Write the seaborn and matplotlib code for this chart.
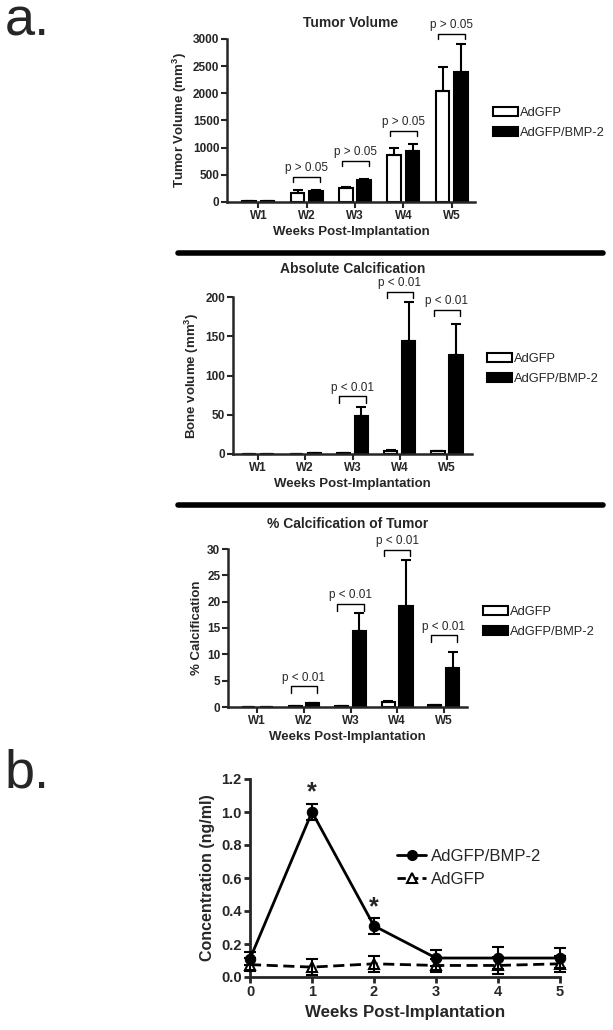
import numpy as np
import pandas as pd
import matplotlib
matplotlib.use("Agg")
import matplotlib.pyplot as plt
from matplotlib.lines import Line2D
from matplotlib.patches import Patch
import seaborn as sns

sns.set_style("ticks")
plt.rcParams["font.family"] = ["Liberation Sans", "DejaVu Sans"]
plt.rcParams["mathtext.default"] = "regular"

# ---- data ----
weeks = ["W1", "W2", "W3", "W4", "W5"]
groups = ["AdGFP", "AdGFP/BMP-2"]

# tumor volume (mm3)
vol_gfp = [15, 172, 265, 862, 2039]
vol_gfp_err = [5, 40, 10, 125, 437]
vol_bmp = [15, 197, 400, 942, 2384]
vol_bmp_err = [5, 18, 20, 118, 530]
vol_p = ["", "p > 0.05", "p > 0.05", "p > 0.05", "p > 0.05"]
vol_bracket = [None, 462, 751, 1312, 3098]

# absolute calcification (bone volume mm3)
bone_gfp = [0.3, 0.3, 1.2, 4.2, 3.4]
bone_gfp_err = [0.1, 0.1, 0.3, 1.0, 0.6]
bone_bmp = [0.3, 1.0, 48, 144, 126]
bone_bmp_err = [0.1, 0.3, 12.5, 50, 39]
bone_p = ["", "", "p < 0.01", "p < 0.01", "p < 0.01"]
bone_bracket = [None, None, 73.5, 207, 184]

# % calcification of tumor
pct_gfp = [0.0, 0.15, 0.1, 0.9, 0.3]
pct_gfp_err = [0.0, 0.05, 0.05, 0.2, 0.1]
pct_bmp = [0.0, 0.7, 14.4, 19.2, 7.4]
pct_bmp_err = [0.0, 0.1, 3.4, 8.8, 3.1]
pct_p = ["", "p < 0.01", "p < 0.01", "p < 0.01", "p < 0.01"]
pct_bracket = [None, 3.9, 19.6, 29.9, 13.6]

# panel b: serum BMP-2 concentration
conc_weeks = [0, 1, 2, 3, 4, 5]
conc_bmp = [0.11, 1.0, 0.31, 0.115, 0.115, 0.115]
conc_bmp_err = [0.04, 0.05, 0.05, 0.05, 0.065, 0.06]
conc_gfp = [0.075, 0.06, 0.08, 0.07, 0.07, 0.08]
conc_gfp_err = [0.04, 0.05, 0.05, 0.04, 0.05, 0.05]
star_weeks = [1, 2]
star_y = [1.12, 0.42]

W, H = 613, 1030
fig = plt.figure(figsize=(W / 100, H / 100), dpi=100)


def px_axes(left, right, top, bottom):
    return fig.add_axes([left / W, 1 - bottom / H, (right - left) / W, (bottom - top) / H])


def style_axes(ax, fs=8.5):
    sns.despine(ax=ax)
    for s in ["left", "bottom"]:
        ax.spines[s].set_linewidth(1.8)
    ax.tick_params(width=1.5, length=4, labelsize=fs, pad=1.5)
    for lab in ax.get_xticklabels() + ax.get_yticklabels():
        lab.set_fontweight("bold")


def bar_panel(ax, gfp, gfp_err, bmp, bmp_err, pvals, brackets, ymax, ystep,
              ylabel, title, title_y, xlim, tick_d, legend_xy):
    df = pd.DataFrame({
        "week": weeks * 2,
        "value": gfp + bmp,
        "group": [groups[0]] * 5 + [groups[1]] * 5,
    })
    sns.barplot(data=df, x="week", y="value", hue="group", ax=ax,
                palette={groups[0]: "white", groups[1]: "black"},
                edgecolor="black", linewidth=1.5, width=0.76, gap=0.26,
                errorbar=None, legend=False)
    for cont, err in zip(ax.containers, [gfp_err, bmp_err]):
        xs = [p.get_x() + p.get_width() / 2 for p in cont]
        ys = [p.get_height() for p in cont]
        ax.errorbar(xs, ys, yerr=[np.zeros(len(err)), err], fmt="none",
                    ecolor="black", elinewidth=1.5, capsize=3.5, capthick=1.5,
                    clip_on=False, zorder=1)
    for i, (txt, yb) in enumerate(zip(pvals, brackets)):
        if yb is None:
            continue
        x1, x2 = i - 0.28, i + 0.28
        ax.plot([x1, x1, x2, x2], [yb - tick_d, yb, yb, yb - tick_d],
                color="black", lw=1, clip_on=False)
        ax.annotate(txt, (i, yb), xytext=(0, 2), textcoords="offset points",
                    ha="center", va="bottom", fontsize=8.5, annotation_clip=False)
    ax.set_xlim(*xlim)
    ax.set_ylim(0, ymax)
    ax.set_yticks(np.arange(0, ymax + 1e-9, ystep))
    ax.set_xlabel("Weeks Post-Implantation", fontsize=9.5, fontweight="bold", labelpad=3)
    ax.set_ylabel(ylabel, fontsize=9.5, fontweight="bold", labelpad=3)
    bb = ax.get_position()
    fig.text(bb.x0 + bb.width / 2, 1 - title_y / H, title, fontsize=10,
             fontweight="bold", ha="center", va="center")
    style_axes(ax)
    handles = [Patch(facecolor="white", edgecolor="black", linewidth=1.5, label=groups[0]),
               Patch(facecolor="black", edgecolor="black", linewidth=1.5, label=groups[1])]
    fig.legend(handles=handles, loc="center left",
               bbox_to_anchor=(legend_xy[0] / W, 1 - legend_xy[1] / H),
               frameon=False, fontsize=9.3, borderpad=0, borderaxespad=0,
               handlelength=1.9, handleheight=0.65, handletextpad=0.15, labelspacing=0.6)


ax1 = px_axes(227, 475, 39, 202)
bar_panel(ax1, vol_gfp, vol_gfp_err, vol_bmp, vol_bmp_err, vol_p, vol_bracket,
          3000, 500, "Tumor Volume (mm$^3$)", "Tumor Volume", 23, (-0.65, 4.48), 90, (493, 123))

ax2 = px_axes(233, 472, 297, 454)
bar_panel(ax2, bone_gfp, bone_gfp_err, bone_bmp, bone_bmp_err, bone_p, bone_bracket,
          200, 50, "Bone volume (mm$^3$)", "Absolute Calcification", 269, (-0.53, 4.53), 8, (487, 369))

ax3 = px_axes(228, 467, 549, 707)
bar_panel(ax3, pct_gfp, pct_gfp_err, pct_bmp, pct_bmp_err, pct_p, pct_bracket,
          30, 5, "% Calcification", "% Calcification of Tumor", 524, (-0.63, 4.5), 1.3, (483, 622))

# separators between the panel-a charts
for ysep in [253, 505]:
    fig.add_artist(Line2D([178 / W, 603 / W], [1 - ysep / H] * 2, lw=4, color="black"))

# panel labels
fig.text(5 / W, 1 - 36 / H, "a.", fontsize=39, va="baseline", ha="left")
fig.text(5 / W, 1 - 788 / H, "b.", fontsize=39, va="baseline", ha="left")

# ---- panel b ----
narrow = ["Liberation Sans Narrow", "Liberation Sans", "DejaVu Sans"]
axb = px_axes(250, 560, 779, 977)
dfb = pd.DataFrame({
    "week": conc_weeks * 2,
    "conc": conc_bmp + conc_gfp,
    "group": [groups[1]] * 6 + [groups[0]] * 6,
})
sns.lineplot(data=dfb[dfb.group == groups[1]], x="week", y="conc", ax=axb,
             color="black", lw=2, marker="o", markersize=7.5, markeredgecolor="black",
             clip_on=False, zorder=4, legend=False)
sns.lineplot(data=dfb[dfb.group == groups[0]], x="week", y="conc", ax=axb,
             color="black", lw=2, marker="^", markersize=7,
             markerfacecolor="white", markeredgecolor="black", markeredgewidth=1.5,
             clip_on=False, zorder=3, legend=False)
axb.lines[1].set_dashes((4, 2))
axb.errorbar(conc_weeks, conc_bmp, yerr=conc_bmp_err, fmt="none", ecolor="black",
             elinewidth=1.5, capsize=4, capthick=1.5, clip_on=False, zorder=5)
axb.errorbar(conc_weeks, conc_gfp, yerr=conc_gfp_err, fmt="none", ecolor="black",
             elinewidth=1.5, capsize=4, capthick=1.5, clip_on=False, zorder=5)
for xs, ys in zip(star_weeks, star_y):
    axb.text(xs, ys, "*", ha="center", va="center", fontsize=18, fontweight="bold")
axb.set_xlim(0, 5)
axb.set_ylim(0, 1.2)
axb.set_xticks(range(6))
axb.set_yticks(np.arange(0, 1.21, 0.2))
axb.set_yticklabels([f"{v:.1f}" for v in np.arange(0, 1.21, 0.2)])
axb.set_xlabel("Weeks Post-Implantation", fontsize=12.2, fontweight="bold", family=narrow, labelpad=4)
axb.set_ylabel("Concentration (ng/ml)", fontsize=11.5, fontweight="bold", family=narrow, labelpad=4)
sns.despine(ax=axb)
for s in ["left", "bottom"]:
    axb.spines[s].set_linewidth(2)
axb.tick_params(width=2, length=4, labelsize=10.5, pad=2)
for lab in axb.get_xticklabels() + axb.get_yticklabels():
    lab.set_fontweight("bold")
    lab.set_family(narrow)
hb = [Line2D([], [], color="black", lw=2, marker="o", markersize=7, label=groups[1]),
      Line2D([], [], color="black", lw=2, ls=(0, (3, 1.5)), marker="^", markersize=7,
             markerfacecolor="white", markeredgewidth=1.5, label=groups[0])]
fig.legend(handles=hb, loc="center left", bbox_to_anchor=(397 / W, 1 - 868 / H),
           frameon=False, borderpad=0, borderaxespad=0, handlelength=1.75,
           handletextpad=0.3, labelspacing=0.5, prop={"family": narrow, "size": 12})

fig.savefig("out.png", dpi=100)
